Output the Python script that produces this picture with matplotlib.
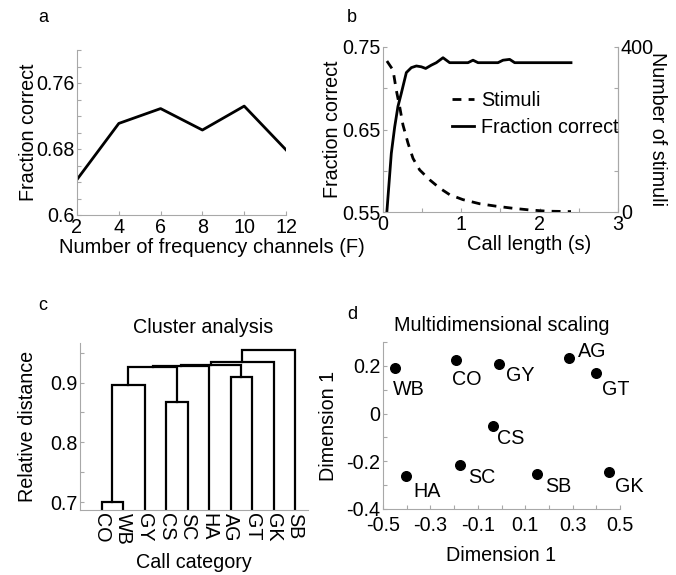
import matplotlib
matplotlib.use("Agg")
import matplotlib.pyplot as plt
from matplotlib.ticker import FixedLocator, FixedFormatter

plt.rcParams["font.family"] = ["Liberation Sans", "DejaVu Sans"]

# panel a: fraction correct vs number of frequency channels
n_channels = [2, 4, 6, 8, 10, 12]
frac_channels = [0.643, 0.711, 0.729, 0.703, 0.732, 0.679]

# panel b: fraction correct and number of stimuli vs call length
call_len_fc = [0.05, 0.106, 0.149, 0.191, 0.234, 0.298, 0.362, 0.426, 0.489, 0.545,
               0.617, 0.681, 0.766, 0.851, 1.085, 1.149, 1.213, 1.468, 1.532, 1.617,
               1.681, 2.4]
frac_len = [0.551, 0.621, 0.653, 0.678, 0.694, 0.719, 0.725, 0.727, 0.726, 0.724,
            0.728, 0.731, 0.737, 0.731, 0.731, 0.734, 0.731, 0.731, 0.734, 0.735,
            0.731, 0.731]
call_len_st = [0.05, 0.128, 0.17, 0.213, 0.255, 0.319, 0.383, 0.468, 0.596, 0.723,
               0.851, 1.02, 1.234, 1.447, 1.66, 1.87, 2.09, 2.4]
n_stimuli = [366, 344, 295, 255, 211, 167, 130, 102, 78, 58, 42, 30, 20, 14, 9, 5, 2, 1]

# panel c: dendrogram (leaf order and merges: left, right, height)
leaf_labels = ["CO", "WB", "GY", "CS", "SC", "HA", "AG", "GT", "GK", "SB"]
merges = [
    (0, 1, 0.700),
    (10, 2, 0.896),
    (3, 4, 0.868),
    (6, 7, 0.910),
    (11, 12, 0.926),
    (14, 5, 0.9275),
    (15, 13, 0.929),
    (16, 8, 0.935),
    (17, 9, 0.9545),
]

# panel d: multidimensional scaling
mds_labels = ["WB", "CO", "GY", "AG", "GT", "CS", "HA", "SC", "SB", "GK"]
mds_x = [-0.448, -0.193, -0.010, 0.286, 0.399, -0.037, -0.401, -0.173, 0.148, 0.455]
mds_y = [0.193, 0.223, 0.207, 0.234, 0.171, -0.051, -0.262, -0.217, -0.255, -0.246]
label_offsets = [(-1.7, -15.6), (-3, -13.7), (5.3, -8.4), (6.5, 4.8), (4.1, -11.8),
                 (3.4, -9.1), (4.8, -10.8), (5.5, -8.6), (6, -8.4), (4.1, -10)]

FS = 14.2
GREY = "#a8a8a8"

W, H = 676, 575
fig = plt.figure(figsize=(W / 100, H / 100), dpi=100)


def px_axes(left, top, right, bottom):
    return fig.add_axes([left / W, 1 - bottom / H, (right - left) / W, (bottom - top) / H])


def style(ax, right=False):
    for side in ("top", "right"):
        ax.spines[side].set_visible(False)
    ax.spines["left"].set_color(GREY)
    ax.spines["bottom"].set_color(GREY)
    if right:
        ax.spines["right"].set_visible(True)
        ax.spines["right"].set_color(GREY)
    ax.tick_params(direction="in", length=3, width=0.8, color=GREY, labelsize=FS,
                   pad=2, labelcolor="black")


def set_ticks(axis, ticks, labels):
    axis.set_major_locator(FixedLocator(ticks))
    axis.set_major_formatter(FixedFormatter(labels))


# ---- a ----
ax = px_axes(77, 50, 286, 215)
style(ax)
ax.plot(n_channels, frac_channels, color="black", lw=2)
ax.set_xlim(2, 12)
ax.set_ylim(0.6, 0.8)
set_ticks(ax.xaxis, [2, 4, 6, 8, 10, 12], ["2", "4", "6", "8", "10", "12"])
yt = [0.6 + 0.02 * i for i in range(11)]
set_ticks(ax.yaxis, yt, ["0.6" if i == 0 else "0.68" if i == 4 else "0.76" if i == 8 else ""
                         for i in range(11)])
ax.set_xlabel("Number of frequency channels (F)", fontsize=14.5, labelpad=-1)
ax.xaxis.set_label_coords(0.643, -0.14)
ax.set_ylabel("Fraction correct", fontsize=FS, labelpad=-1.5)
fig.text(43 / W, 1 - 17 / H, "a", fontsize=13, ha="center", va="center")

# ---- b ----
ax = px_axes(383, 47, 618, 212)
style(ax, right=True)
ax2 = ax.twinx()
for side in ("top", "left", "bottom"):
    ax2.spines[side].set_visible(False)
ax2.spines["right"].set_color(GREY)
ax2.tick_params(direction="in", length=3, width=0.8, color=GREY, labelsize=FS, pad=2)
ax.tick_params(axis="y", right=False)
l_fc, = ax.plot(call_len_fc, frac_len, color="black", lw=2, label="Fraction correct")
l_st, = ax2.plot(call_len_st, n_stimuli, color="black", lw=2, ls=(0, (3.2, 2.6)), label="Stimuli")
ax.set_xlim(0, 3)
ax.set_ylim(0.55, 0.75)
ax2.set_ylim(0, 400)
set_ticks(ax.xaxis, [0, 0.5, 1, 1.5, 2, 2.5, 3], ["0", "", "1", "", "2", "", "3"])
set_ticks(ax.yaxis, [0.55, 0.6, 0.65, 0.7, 0.75], ["0.55", "", "0.65", "", "0.75"])
set_ticks(ax2.yaxis, [0, 100, 200, 300, 400], ["0", "", "", "", "400"])
ax.set_xlabel("Call length (s)", fontsize=14.5, labelpad=-1)
ax.xaxis.set_label_coords(0.62, -0.14)
ax.set_ylabel("Fraction correct", fontsize=FS, labelpad=0)
ax2.set_ylabel("Number of stimuli", fontsize=FS, rotation=270, va="bottom", labelpad=-4)
ax2.legend([l_st, l_fc], ["Stimuli", "Fraction correct"], loc="center left",
           bbox_to_anchor=(0.294, 0.595), frameon=False, fontsize=FS, handlelength=1.1,
           handletextpad=0.36, borderpad=0, borderaxespad=0, labelspacing=0.43)
fig.text(352 / W, 1 - 17 / H, "b", fontsize=13, ha="center", va="center")

# ---- c ----
ax = px_axes(80, 343, 308, 510)
style(ax)
pos = {i: (i + 1.0, 0.0) for i in range(len(leaf_labels))}
for k, (a, b, h) in enumerate(merges):
    xa, ha_ = pos[a]
    xb, hb = pos[b]
    ax.plot([xa, xa, xb, xb], [ha_, h, h, hb], color="black", lw=1.6,
            solid_joinstyle="miter", clip_on=True)
    pos[len(leaf_labels) + k] = ((xa + xb) / 2, h)
ax.set_xlim(0, 10.6)
ax.set_ylim(0.687, 0.966)
set_ticks(ax.xaxis, list(range(1, 11)), leaf_labels)
ax.tick_params(axis="x", length=0, labelrotation=270)
set_ticks(ax.yaxis, [0.7, 0.75, 0.8, 0.85, 0.9, 0.95], ["0.7", "", "0.8", "", "0.9", ""])
ax.set_xlabel("Call category", fontsize=FS, labelpad=6)
ax.set_ylabel("Relative distance", fontsize=FS, labelpad=9)
ax.set_title("Cluster analysis", fontsize=FS, x=0.54, pad=7)
fig.text(43 / W, 1 - 305 / H, "c", fontsize=13, ha="center", va="center")

# ---- d ----
ax = px_axes(383, 342, 620, 509)
style(ax)
ax.tick_params(axis="x", pad=5)
ax.scatter(mds_x, mds_y, s=48, color="black", zorder=3)
for lab, x, y, off in zip(mds_labels, mds_x, mds_y, label_offsets):
    ax.annotate(lab, (x, y), xytext=off, textcoords="offset points",
                ha="left", va="center", fontsize=FS)
ax.set_xlim(-0.5, 0.5)
ax.set_ylim(-0.4, 0.3)
xt = [-0.5 + 0.1 * i for i in range(11)]
set_ticks(ax.xaxis, xt, ["%g" % round(v, 1) if i % 2 == 0 else "" for i, v in enumerate(xt)])
yt = [-0.4 + 0.1 * i for i in range(8)]
set_ticks(ax.yaxis, yt, ["%g" % round(v, 1) if i % 2 == 0 else "" for i, v in enumerate(yt)])
ax.set_xlabel("Dimension 1", fontsize=FS, labelpad=8)
ax.set_ylabel("Dimension 1", fontsize=FS, labelpad=5.5)
ax.set_title("Multidimensional scaling", fontsize=FS, pad=8)
fig.text(352 / W, 1 - 315 / H, "d", fontsize=13, ha="center", va="center")

fig.savefig("out.png", dpi=100)
